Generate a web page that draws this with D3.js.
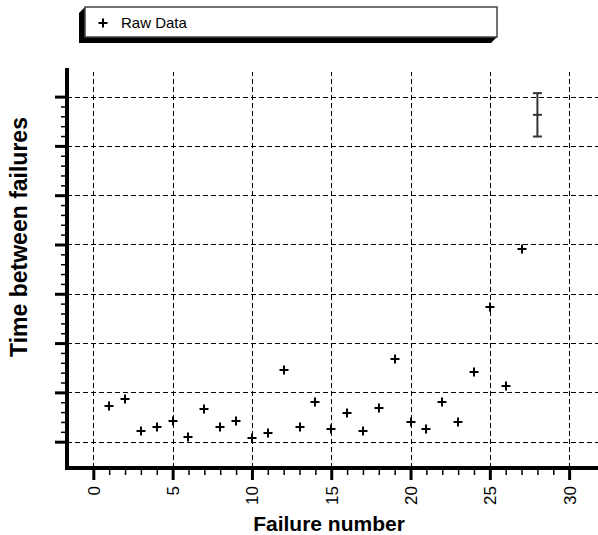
<!DOCTYPE html>
<meta charset="UTF-8">
<html>
	<head>
		<script src="https://d3js.org/d3.v7.min.js"></script>
		<style>
			body { margin: 0; background: #fff; }
			.Chart text { font-family: "Liberation Sans", Arial, sans-serif; fill: #000; }
			.Grid line { shape-rendering: crispEdges; }
		</style>
	</head>
	<body>
		<svg class="Chart"></svg>
		<script type="text/javascript">
			// failure number and time between failures (grid units)
			var FailureNo = [1,2,3,4,5,6,7,8,9,10,11,12,13,14,15,16,17,18,19,20,21,22,23,24,25,26,27];
			var TimeBetween = [1.72,1.87,1.22,1.29,1.41,1.10,1.66,1.29,1.41,1.07,1.18,2.45,1.29,1.80,1.25,1.59,1.22,1.69,2.67,1.39,1.25,1.80,1.39,2.42,3.73,2.13,4.90];
			// error bar: x, low, mid, high
			var ErrX = [28];
			var ErrLow = [7.19];
			var ErrMid = [7.63];
			var ErrHigh = [8.07];
			var XTicks = [0,5,10,15,20,25,30];
			var YTicks = [1,2,3,4,5,6,7,8];
			var LegendLabel = "Raw Data";

			var Width = 598, Height = 535;
			var svg = d3.select(".Chart").attr("width", Width).attr("height", Height);

			var XScale = d3.scaleLinear().domain([-1.66, 31.82]).range([67, 598]);
			var YScale = d3.scaleLinear().domain([0.466, 8.58]).range([468, 68]);

			// grid
			svg.append("g").attr("class", "Grid")
				.attr("transform", "translate(0,468)")
				.call(d3.axisBottom(XScale).tickValues(XTicks).tickSize(-(468 - 72)).tickFormat(""))
				.call(function(g){ g.select(".domain").remove(); })
				.selectAll("line").attr("stroke", "#000").attr("stroke-width", 1).attr("stroke-dasharray", "5,3");
			svg.append("g").attr("class", "Grid")
				.attr("transform", "translate(67,0)")
				.call(d3.axisLeft(YScale).tickValues(YTicks).tickSize(-(598 - 67)).tickFormat(""))
				.call(function(g){ g.select(".domain").remove(); })
				.selectAll("line").attr("stroke", "#000").attr("stroke-width", 1).attr("stroke-dasharray", "5,3");

			// minor ticks
			var XMinor = d3.range(0, 31).filter(function(d){ return d % 5 !== 0; });
			svg.append("g")
				.attr("transform", "translate(0,468)")
				.call(d3.axisBottom(XScale).tickValues(XMinor).tickSize(7).tickFormat(""))
				.call(function(g){ g.select(".domain").remove(); })
				.selectAll("line").attr("stroke", "#000").attr("stroke-width", 1.5);
			var YMinor = d3.range(1, 8, 0.2).map(function(d){ return Math.round(d * 10) / 10; })
				.filter(function(d){ return d % 1 !== 0; });
			svg.append("g")
				.attr("transform", "translate(67,0)")
				.call(d3.axisLeft(YScale).tickValues(YMinor).tickSize(6).tickFormat(""))
				.call(function(g){ g.select(".domain").remove(); })
				.selectAll("line").attr("stroke", "#000").attr("stroke-width", 1.5);

			// major ticks
			var XAxis = svg.append("g")
				.attr("transform", "translate(0,468)")
				.call(d3.axisBottom(XScale).tickValues(XTicks).tickSize(12).tickPadding(0));
			XAxis.select(".domain").remove();
			XAxis.selectAll("line").attr("stroke", "#000").attr("stroke-width", 3);
			XAxis.selectAll("text")
				.attr("transform", "translate(0,18) rotate(-90)")
				.attr("x", 0).attr("y", 0).attr("dy", "0.35em")
				.style("text-anchor", "end")
				.style("font-size", "17px");

			var YAxis = svg.append("g")
				.attr("transform", "translate(67,0)")
				.call(d3.axisLeft(YScale).tickValues(YTicks).tickSize(12).tickFormat(""));
			YAxis.select(".domain").remove();
			YAxis.selectAll("line").attr("stroke", "#000").attr("stroke-width", 3);

			// axis lines
			svg.append("line")
				.attr("x1", 65).attr("x2", XScale.range()[1])
				.attr("y1", YScale.range()[0]).attr("y2", YScale.range()[0])
				.attr("stroke", "#000").attr("stroke-width", 4);
			svg.append("line")
				.attr("x1", XScale.range()[0]).attr("x2", XScale.range()[0])
				.attr("y1", YScale.range()[1]).attr("y2", 470)
				.attr("stroke", "#000").attr("stroke-width", 4);

			// raw data markers
			var Pts = FailureNo.map(function(d, i){ return {x: d, y: TimeBetween[i]}; });
			svg.append("g").selectAll("path")
				.data(Pts).enter().append("path")
				.attr("d", function(d){
					var cx = Math.round(XScale(d.x)), cy = Math.round(YScale(d.y));
					return "M" + (cx - 4.5) + "," + cy + "H" + (cx + 4.5) + "M" + cx + "," + (cy - 4.5) + "V" + (cy + 4.5);
				})
				.attr("stroke", "#000").attr("stroke-width", 2);

			// error bar
			ErrX.forEach(function(ex, i){
				var cx = XScale(ex);
				var g = svg.append("g").attr("stroke", "#333").attr("stroke-width", 2);
				g.append("line").attr("x1", cx).attr("x2", cx).attr("y1", YScale(ErrHigh[i])).attr("y2", YScale(ErrLow[i]));
				[ErrHigh[i], ErrMid[i], ErrLow[i]].forEach(function(v){
					g.append("line").attr("x1", cx - 4.5).attr("x2", cx + 4.5).attr("y1", YScale(v)).attr("y2", YScale(v));
				});
			});

			// legend
			var Leg = svg.append("g");
			Leg.append("path")
				.attr("d", "M85,7L79,13L79,43L491,43L497,37Z")
				.attr("fill", "#000");
			Leg.append("rect")
				.attr("x", 85).attr("y", 7).attr("width", 412).attr("height", 30)
				.attr("fill", "#fff").attr("stroke", "#444").attr("stroke-width", 1.5);
			Leg.append("path")
				.attr("d", "M98.5,23H107.5M103,18.5V27.5")
				.attr("stroke", "#000").attr("stroke-width", 2);
			Leg.append("text")
				.attr("x", 121).attr("y", 28)
				.style("font-size", "15px")
				.text(LegendLabel);

			// axis titles
			svg.append("text")
				.attr("transform", "translate(329,531)")
				.style("text-anchor", "middle")
				.style("font-size", "21px").style("font-weight", "bold")
				.text("Failure number");
			svg.append("text")
				.attr("transform", "translate(27,237) rotate(-90)")
				.style("text-anchor", "middle")
				.style("font-size", "23px").style("font-weight", "bold")
				.text("Time between failures");
		</script>
	</body>
</html>
